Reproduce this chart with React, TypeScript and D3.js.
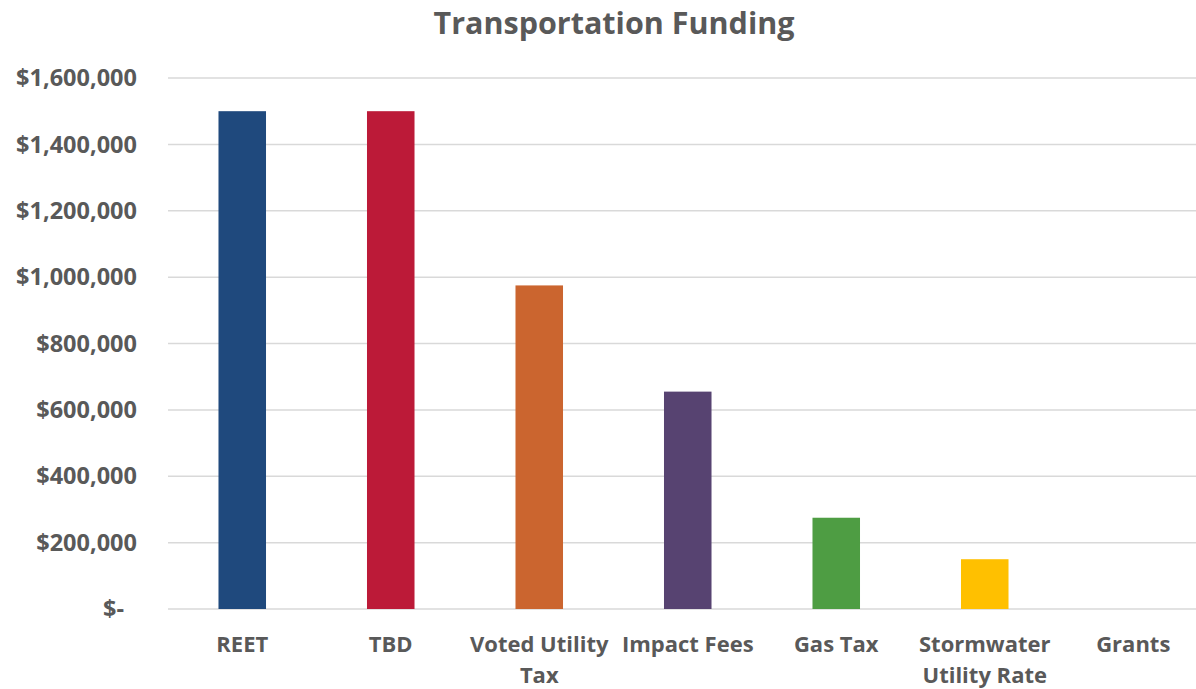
import React, { useEffect, useRef } from "react";
import * as d3 from "d3";

const categories = ["REET", "TBD", "Voted Utility Tax", "Impact Fees", "Gas Tax", "Stormwater Utility Rate", "Grants"];
const values = [1500000, 1500000, 975000, 655000, 275000, 150000, 0];
const colors = ["#1F497D", "#BC1A38", "#CB652F", "#574371", "#4E9D43", "#FFC000", "#7F7F7F"];
const yTicks = [0, 200000, 400000, 600000, 800000, 1000000, 1200000, 1400000, 1600000];
const title = "Transportation Funding";

const W = 1196, H = 689;
const FONT = "'Open Sans', 'Noto Sans', sans-serif";
const TXT = "#595959";

export default function App() {
  const ref = useRef<SVGSVGElement>(null);
  useEffect(() => {
    const svg = d3.select(ref.current);
    svg.selectAll("*").remove();
    const left = 168, right = 1207.5, top = 78, bottom = 609;
    const x = d3.scaleBand<string>().domain(categories).range([left, right]).paddingInner(0.68).paddingOuter(0.34);
    const y = d3.scaleLinear().domain([0, 1600000]).range([bottom, top]);
    const fmt = (v: number) => (v === 0 ? "$-" : "$" + d3.format(",")(v));

    svg.append("g").selectAll("line").data(yTicks).join("line")
      .attr("x1", left).attr("x2", W).attr("y1", d => y(d)).attr("y2", d => y(d))
      .attr("stroke", "#d9d9d9").attr("stroke-width", 1.5);

    svg.append("g").selectAll("text").data(yTicks).join("text")
      .attr("x", d => (d === 0 ? 124 : 137)).attr("y", d => y(d)).attr("dy", "0.35em")
      .attr("text-anchor", "end").attr("font-family", FONT).attr("font-weight", 700)
      .attr("font-size", 23.5).attr("fill", TXT).text(d => fmt(d));

    svg.append("g").selectAll("rect").data(categories).join("rect")
      .attr("x", d => x(d)!).attr("width", x.bandwidth())
      .attr("y", (d, i) => y(values[i])).attr("height", (d, i) => bottom - y(values[i]))
      .attr("fill", (d, i) => colors[i]);

    const labels = svg.append("g").selectAll("text").data(categories).join("text")
      .attr("x", d => x(d)! + x.bandwidth() / 2).attr("y", 652)
      .attr("text-anchor", "middle").attr("font-family", FONT).attr("font-weight", 700)
      .attr("font-size", 22).attr("fill", TXT);
    labels.each(function (d) {
      const t = d3.select(this);
      const words = d.split(" ");
      let line: string[] = [];
      let tspan = t.append("tspan").attr("x", x(d)! + x.bandwidth() / 2).attr("dy", 0);
      for (const w of words) {
        line.push(w);
        tspan.text(line.join(" "));
        if ((tspan.node() as SVGTSpanElement).getComputedTextLength() > 160 && line.length > 1) {
          line.pop();
          tspan.text(line.join(" "));
          line = [w];
          tspan = t.append("tspan").attr("x", x(d)! + x.bandwidth() / 2).attr("dy", 31).text(w);
        }
      }
    });

    svg.append("text").attr("x", 614).attr("y", 34).attr("text-anchor", "middle")
      .attr("font-family", FONT).attr("font-weight", 700).attr("font-size", 30.5)
      .attr("fill", TXT).text(title);
  }, []);
  return (
    <svg ref={ref} width={W} height={H} style={{ position: "absolute", left: 0, top: 0, background: "#fff" }} />
  );
}
